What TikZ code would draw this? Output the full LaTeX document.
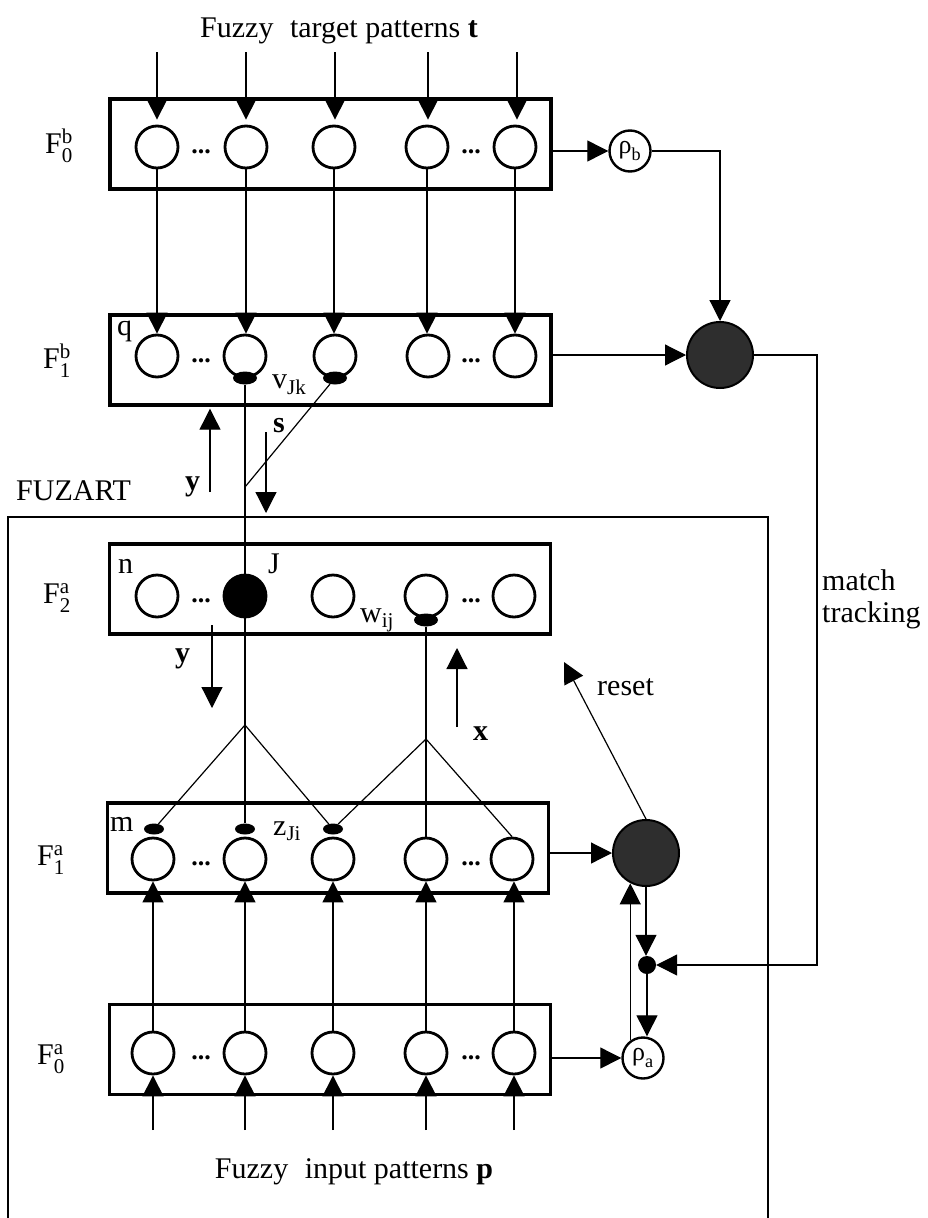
\documentclass[tikz,border=0pt]{standalone}
\usepackage{fontspec}
\usepackage{amsmath}
\setmainfont{Liberation Serif}
\usetikzlibrary{arrows.meta,shapes.geometric}
\begin{document}
\begin{tikzpicture}[x=1pt,y=-1pt,
  lay/.style={draw, line width=3.4pt, minimum width=441pt, minimum height=90pt, inner sep=0pt},
  neu/.style={circle, draw, line width=2.8pt, minimum size=42pt, inner sep=0pt},
  win/.style={neu, fill=black},
  syn/.style={ellipse, fill=black, minimum width=24pt, minimum height=13pt, inner sep=0pt},
  synS/.style={syn, minimum width=20pt, minimum height=11pt},
  vig/.style={circle, draw, line width=2pt, fill=black!82, minimum size=66pt, inner sep=0pt},
  rho/.style={circle, draw, line width=2.4pt, minimum size=41pt, inner sep=0pt, font=\fontsize{26}{26}\selectfont},
  jdot/.style={circle, fill=black, minimum size=18pt, inner sep=0pt},
  conn/.style={line width=1.2pt},
  arr/.style={conn, -{Triangle[length=21pt,width=21pt]}},
  lbl/.style={inner sep=0pt, anchor=base west, font=\fontsize{30}{33}\selectfont},
  dts/.style={inner sep=0pt, anchor=base, font=\fontsize{26}{26}\selectfont\bfseries},
]
\useasboundingbox (0,0) rectangle (928,1218);

% layer boxes
\node[lay] (L0b) at (330.5,144) {};
\node[lay] (L1b) at (330.5,360) {};
\node[lay] (L2a) at (330,589) {};
\node[lay] (L1a) at (328,848) {};
\node[lay] (L0a) at (330,1049.5) {};

% neurons
\foreach \x [count=\i] in {157,246,334,427,515} \node[neu] (b0\i) at (\x,147) {};
\foreach \x [count=\i] in {157,245,335,428,515} \node[neu] (b1\i) at (\x,356) {};
\node[neu] (a21) at (157,596) {};
\node[win] (a22) at (245,596) {};
\node[neu] (a23) at (333,596) {};
\node[neu] (a24) at (426,596) {};
\node[neu] (a25) at (514,596) {};
\foreach \x [count=\i] in {153,245,333,426,512} \node[neu] (a1\i) at (\x,859) {};
\foreach \x [count=\i] in {153,245,333,426,514} \node[neu] (a0\i) at (\x,1053) {};

% dots
\foreach \y/\n in {153/b0,362/b1,602/a2,865/a1,1059/a0}{
  \node[dts] (\n d1) at (201,\y) {...};
  \node[dts] (\n d2) at (471,\y) {...};
}

% synapses
\node[syn] (sb2) at (245,378) {};
\node[syn] (sb3) at (335,378) {};
\node[syn] (sw) at (426,620) {};
\node[synS] (sa1) at (154,829) {};
\node[synS] (sa2) at (245,829) {};
\node[synS] (sa3) at (333,829) {};

% side nodes
\node[rho] (rb) at (630,151) {$\text{ρ}_{\text{b}}$};
\node[vig] (vb) at (720,355) {};
\node[vig] (va) at (646,853) {};
\node[jdot] (jd) at (647,965) {};
\node[rho] (ra) at (643,1058) {$\text{ρ}_{\text{a}}$};

% FUZART frame
\coordinate (fz1) at (8,1218);
\coordinate (fz2) at (8,517);
\coordinate (fz3) at (768,517);
\coordinate (fz4) at (768,1218);
\draw[conn] (fz1) -- (fz2) -- (fz3) -- (fz4);

% top inputs
\foreach \x [count=\i] in {157,246,335,428,517}{
  \coordinate (t\i) at (\x,52);
  \draw[arr, shorten >=5pt] (t\i) -- (t\i |- b0\i.north);
  \draw[arr] (b0\i.south) -- (b0\i.south |- b1\i.north);
}
% bottom inputs
\foreach \x [count=\i] in {153,245,333,426,514}{
  \coordinate (p\i) at (\x,1130);
  \draw[arr] (p\i) -- (p\i |- a0\i.south);
  \draw[arr] (a0\i.north) -- (a0\i.north |- a1\i.south);
}

% weight connections
\draw[conn] (sb2) -- (sa2);
\coordinate (jn) at (245,487);
\draw[conn] (sb3) -- (jn);
\coordinate (pk1) at (245,725);
\draw[conn] (sa1) -- (pk1) -- (sa3);
\draw[line width=2.4pt] (sw) -- (a14.north);
\coordinate (pk2) at (426,739);
\draw[conn] (sa3) -- (pk2) -- (a15.north);

% small signal arrows
\coordinate (yu0) at (210,492);
\draw[arr, shorten >=2pt] (yu0) -- (yu0 |- L1b.south);
\coordinate (s0) at (266,432);
\coordinate (s1) at (266,513);
\draw[arr] (s0) -- (s1);
\coordinate (yd0) at (212,625);
\coordinate (yd1) at (212,708);
\draw[arr] (yd0) -- (yd1);
\coordinate (x0) at (457,727);
\coordinate (x1) at (457,648);
\draw[arr] (x0) -- (x1);

% side connections
\draw[arr] (L0b.east |- rb) -- (rb.west);
\draw[arr] (rb.east) -| (vb.north);
\draw[arr] (L1b.east |- vb) -- (vb.west);
\coordinate (mt) at (817,965);
\draw[arr] (vb.east) -| (mt) -- (jd.east);
\draw[arr] (L1a.east |- va) -- (va.west);
\coordinate (rt) at (564,662);
\draw[arr] (va.north) -- (rt);
\draw[arr] (va.south) -- (va.south |- jd.north);
\draw[arr] (jd.south) -- (jd.south |- ra.north);
\draw[arr] (ra.126) -- (ra.126 |- va.243);
\draw[arr] (L0a.east |- ra) -- (ra.west);

% labels
\node[lbl, anchor=base] (ttl) at (339,37) {Fuzzy\hspace{0.3em} target patterns \textbf{t}};
\node[lbl, anchor=base] (btl) at (354,1178) {Fuzzy\hspace{0.3em} input patterns \textbf{p}};
\node[lbl] (lF0b) at (45,153) {F$^{\text{b}}_{\text{0}}$};
\node[lbl] (lF1b) at (43,368) {F$^{\text{b}}_{\text{1}}$};
\node[lbl] (lF2a) at (43,603) {F$^{\text{a}}_{\text{2}}$};
\node[lbl] (lF1a) at (37,865) {F$^{\text{a}}_{\text{1}}$};
\node[lbl] (lF0a) at (37,1064) {F$^{\text{a}}_{\text{0}}$};
\node[lbl] (lq) at (117,335) {q};
\node[lbl] (ln) at (118,573) {n};
\node[lbl] (lJ) at (268,573) {J};
\node[lbl] (lm) at (110,831) {m};
\node[lbl] (lv) at (272,388) {v$_{\text{Jk}}$};
\node[lbl] (lz) at (273,835) {z$_{\text{Ji}}$};
\node[lbl] (lw) at (360,622) {w$_{\text{ij}}$};
\node[lbl] (ls) at (273,432) {\textbf{s}};
\node[lbl] (ly1) at (185,490) {\textbf{y}};
\node[lbl] (ly2) at (175,662) {\textbf{y}};
\node[lbl] (lx) at (473,740) {\textbf{x}};
\node[lbl] (lfz) at (16,500) {FUZART};
\node[lbl] (lrs) at (597,695) {reset};
\node[lbl] (lm1) at (822,590) {match};
\node[lbl] (lm2) at (822,622) {tracking};
\end{tikzpicture}
\end{document}
